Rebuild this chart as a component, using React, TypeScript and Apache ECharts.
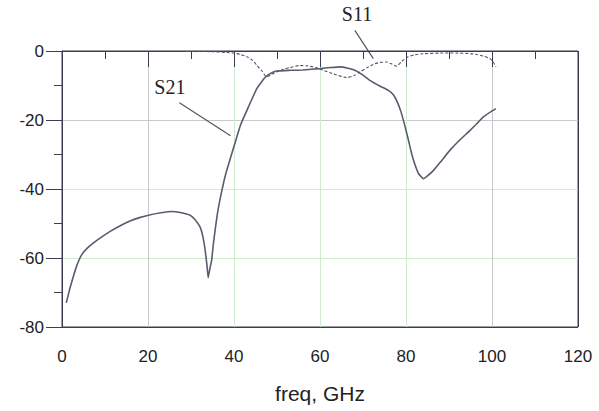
import React, { useEffect, useRef } from "react";
import * as echarts from "echarts";

const xTicks = [0, 20, 40, 60, 80, 100, 120];
const yTicks = [-80, -60, -40, -20, 0];

const s21: [number, number][] = [
  [1, -73], [1.8, -69], [2.6, -65.5], [3.5, -62], [4.6, -59], [6, -57], [8.1, -54.9], [11.2, -52.3], [13, -51],
  [15.8, -49.3], [18, -48.3], [20.1, -47.6], [23, -46.9], [25.5, -46.5], [27.5, -46.8], [29.8, -47.6],
  [31, -49], [32.1, -51], [32.8, -54], [33.3, -57.8], [33.7, -62], [34.0, -65.7], [34.4, -63],
  [34.8, -60.7], [35.2, -56], [35.6, -52], [36.1, -47.5], [36.7, -43.3], [38, -36], [40.2, -26.8],
  [41.5, -21.5], [43, -17.2], [45.3, -10.9], [47.2, -7.7], [48.5, -6.5], [49.9, -5.8], [53, -5.6],
  [56, -5.5], [60, -5.1], [62.5, -4.8], [64.7, -4.6], [66.5, -5], [68.1, -5.6], [70, -7], [71.6, -8.5],
  [74, -10.2], [75.9, -11.4], [77, -12.6], [77.8, -14.3], [78.8, -17.5], [79.8, -22], [80.6, -26],
  [81.3, -29.7], [82.1, -33], [82.9, -35.5], [84.0, -37], [85, -36.2], [86.4, -34.6], [88, -32.2],
  [90.2, -28.8], [92.5, -25.8], [94.9, -23], [96.5, -21], [98, -19.1], [99.5, -17.8], [100.9, -16.7],
];

const s11: [number, number][] = [
  [29, -0.1], [32, -0.1], [35, -0.2], [38, -0.4], [39.8, -0.6], [41.5, -1], [43, -1.7], [44.3, -2.7],
  [45.3, -4.1], [46.5, -5.8], [47.6, -7.5], [48.7, -6.8], [49.9, -6.1], [51.5, -5.3], [53, -4.8],
  [55.3, -4.2], [57, -4.3], [59, -4.8], [60.8, -5.6], [63, -6.6], [66.2, -7.7], [67.8, -7.2],
  [69.3, -6.1], [71, -4.8], [72.8, -3.7], [74, -3.3], [75.5, -3.2], [76.7, -3.8], [77.8, -4.4],
  [79, -3], [80.5, -1.7], [82, -1.1], [84, -0.8], [88, -0.6], [91.8, -0.6], [94, -0.7], [96.4, -1],
  [98, -1.5], [99.5, -2.2], [100.3, -3.2], [100.9, -4.6],
];

// annotation anchors in data coordinates
const labelS21 = { text: "S21", at: [25.1, -10.5], from: [27.3, -15.0], to: [39.2, -24.6] };
const labelS11 = { text: "S11", at: [68.6, 10.6], from: [68.1, 6.0], to: [72.4, -2.2] };

const GRID_GRAY = "#c9c9c9";
const GRID_GREEN = "#cfeccf";
const AXIS = "#3c3c50";

export default function App() {
  const ref = useRef<HTMLDivElement>(null);
  useEffect(() => {
    if (!ref.current) return;
    const chart = echarts.init(ref.current, null, { renderer: "svg" });
    const labelFont = { fontFamily: "Liberation Sans, Arial, sans-serif", fontSize: 17, color: "#222" };
    chart.setOption({
      animation: false,
      backgroundColor: "#fff",
      grid: {
        left: 62, right: 21, top: 51, bottom: 84,
        show: true, borderColor: AXIS, borderWidth: 1, backgroundColor: "transparent",
      },
      xAxis: {
        type: "value", min: 0, max: 120, interval: 20,
        name: "freq, GHz", nameLocation: "middle", nameGap: 56,
        nameTextStyle: { fontFamily: "Liberation Sans, Arial, sans-serif", fontSize: 21, color: "#222" },
        axisLine: { show: true, lineStyle: { color: AXIS, width: 1 } },
        axisTick: { show: true, inside: false, length: 16, lineStyle: { color: AXIS } },
        minorTick: { show: true, splitNumber: 2, length: 8, lineStyle: { color: AXIS } },
        axisLabel: { ...labelFont, margin: 21 },
        splitLine: {
          show: true,
          lineStyle: { color: [AXIS, GRID_GRAY, GRID_GREEN, GRID_GREEN, GRID_GREEN, GRID_GRAY, AXIS], width: 1 },
        },
      },
      yAxis: {
        type: "value", min: -80, max: 0, interval: 20,
        axisLine: { show: true, lineStyle: { color: AXIS, width: 1 } },
        axisTick: { show: true, inside: false, length: 16, lineStyle: { color: AXIS } },
        minorTick: { show: true, splitNumber: 2, length: 8, lineStyle: { color: AXIS } },
        axisLabel: { ...labelFont, margin: 18 },
        splitLine: {
          show: true,
          lineStyle: { color: [AXIS, GRID_GREEN, GRID_GREEN, GRID_GRAY, AXIS], width: 1 },
        },
      },
      series: [
        {
          name: "S21", type: "line", data: s21, showSymbol: false, smooth: 0.12,
          lineStyle: { color: "#5a5b6e", width: 1.6 },
        },
        {
          name: "S11", type: "line", data: s11, showSymbol: false, smooth: 0.2,
          lineStyle: { color: "#55555f", width: 1.1, type: [3, 2] },
        },
      ],
    });
    const px = (p: number[]) => chart.convertToPixel({ gridIndex: 0 }, p) as number[];
    const annos = [labelS21, labelS11];
    const graphic: any[] = [];
    annos.forEach((a) => {
      const c = px(a.at);
      const f = px(a.from);
      const t = px(a.to);
      graphic.push({
        type: "text", x: c[0], y: c[1],
        style: {
          text: a.text, fill: "#222", font: '20px "Liberation Serif", "Times New Roman", serif',
          textAlign: "center", textVerticalAlign: "middle",
        },
      });
      graphic.push({
        type: "line", shape: { x1: f[0], y1: f[1], x2: t[0], y2: t[1] },
        style: { stroke: "#555566", lineWidth: 1.2 },
      });
    });
    chart.setOption({ graphic });
    return () => chart.dispose();
  }, []);
  return <div ref={ref} style={{ width: 599, height: 411, position: "absolute", left: 0, top: 0 }} />;
}
